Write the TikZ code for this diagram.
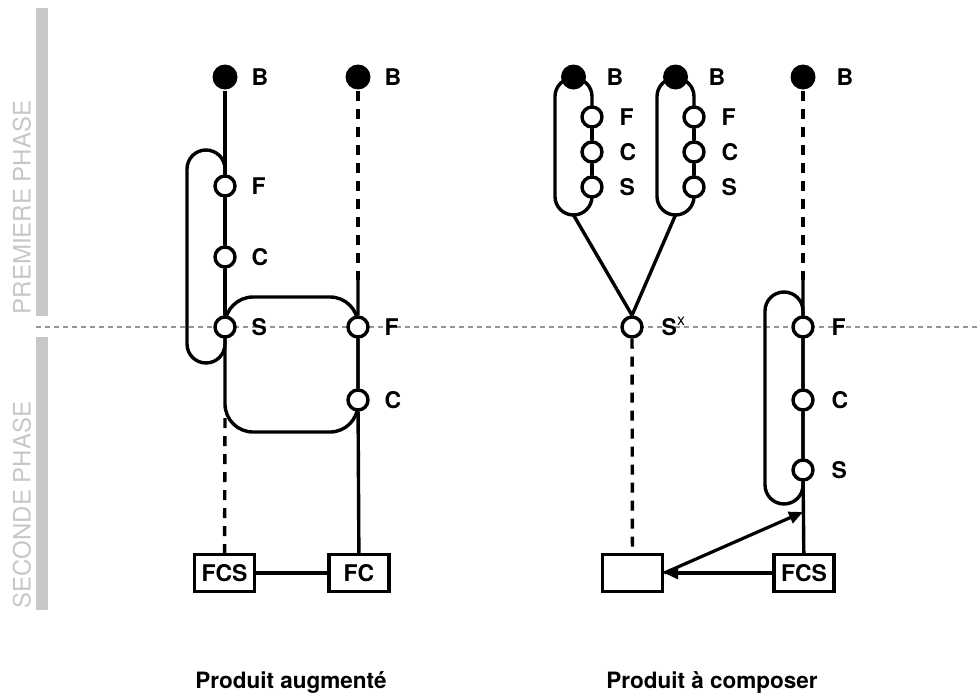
\documentclass[tikz,border=0pt]{standalone}
\usepackage{fontspec}
\setmainfont{TeX Gyre Heros}
\usetikzlibrary{arrows.meta, positioning}
\colorlet{phasegray}{black!22}
\colorlet{sepgray}{black!42}

\tikzset{
  bnode/.style={circle, fill=black, inner sep=0pt, minimum size=12.5pt},
  pnode/.style={circle, draw=black, fill=white, line width=1.7pt, inner sep=0pt, minimum size=10pt},
  lbl/.style={anchor=base west, inner sep=0pt, font=\fontsize{11.5}{13}\selectfont\bfseries},
  boite/.style={draw=black, fill=white, line width=1.7pt, inner sep=0pt, minimum width=30pt, minimum height=18.5pt, font=\fontsize{11.5}{13}\selectfont\bfseries},
  pointille/.style={line width=1.7pt, dash pattern=on 5pt off 4pt},
  phase/.style={rotate=90, anchor=west, inner sep=0pt, text=phasegray, font=\fontsize{12}{14}\selectfont},
  titre/.style={anchor=base, inner sep=0pt, font=\fontsize{11.25}{13}\selectfont\bfseries},
  fleche/.style={line width=1.6pt, -{Triangle[length=7pt, width=6pt]}},
}

\begin{document}
\begin{tikzpicture}[x=0.5pt, y=-0.5pt, line width=1.7pt]
  \useasboundingbox (0,0) rectangle (979,696);
  % phases
  \fill[phasegray] (36,8) rectangle (48,316);
  \fill[phasegray] (36,337) rectangle (48,610);
  \node[phase] (ph1) at (22,316) {PREMIERE PHASE};
  \node[phase] (ph2) at (22,610) {SECONDE PHASE};
  \draw[sepgray, line width=0.6pt, dash pattern=on 2.5pt off 2pt] (36,327) -- (979,327);

  % produit augmente
  \draw[rounded corners=9.5pt] (187,150) rectangle (225,363);
  \draw[rounded corners=14pt] (225,297) rectangle (358,432);
  \node[bnode] (b1) at (225,77) {};
  \node[pnode] (f1) at (225,186) {};
  \node[pnode] (c1) at (225,257) {};
  \node[pnode] (s1) at (225,327) {};
  \node[bnode] (b2) at (358,77) {};
  \node[pnode] (f2) at (358,327) {};
  \node[pnode] (c2) at (358,400) {};
  \node[boite] (fcs1) at (224.5,573) {FCS};
  \node[boite] (fc1) at (359,573) {FC};
  \coordinate (d1) at (225,418);
  \coordinate (d2) at (358,280);
  \draw (b1) -- (f1) -- (c1) -- (s1);
  \draw[pointille] (d1) -- (fcs1);
  \draw[pointille] (b2) -- (d2);
  \draw (d2) -- (f2) -- (c2) -- (fc1);
  \draw (fcs1) -- (fc1);
  \node[lbl] (lb1) at (250,85) {B};
  \node[lbl] (lf1) at (250,194) {F};
  \node[lbl] (lc1) at (250,265) {C};
  \node[lbl] (ls1) at (250,335) {S};
  \node[lbl] (lb2) at (383,85) {B};
  \node[lbl] (lf2) at (383,335) {F};
  \node[lbl] (lc2) at (383,408) {C};

  % produit a composer
  \draw[rounded corners=9.25pt] (555,78) rectangle (592,215);
  \draw[rounded corners=9.25pt] (657,78) rectangle (694,215);
  \draw[rounded corners=9.5pt] (765,292) rectangle (803,504);
  \node[bnode] (b3) at (573.5,77) {};
  \node[pnode] (f3) at (592,117) {};
  \node[pnode] (c3) at (592,152) {};
  \node[pnode] (s3) at (592,187) {};
  \node[bnode] (b4) at (675.5,77) {};
  \node[pnode] (f4) at (694,117) {};
  \node[pnode] (c4) at (694,152) {};
  \node[pnode] (s4) at (694,187) {};
  \node[pnode] (sx) at (632,327) {};
  \node[bnode] (b5) at (803,77) {};
  \node[pnode] (f5) at (803,327) {};
  \node[pnode] (c5) at (803,400) {};
  \node[pnode] (s5) at (803,470) {};
  \node[boite] (vide) at (632.5,573) {};
  \node[boite] (fcs2) at (804,573) {FCS};
  \coordinate (k1) at (573.5,215);
  \coordinate (k2) at (675.5,215);
  \coordinate (d4) at (803,280);
  \coordinate (a5) at (803,512);
  \draw (f3) -- (c3) -- (s3);
  \draw (f4) -- (c4) -- (s4);
  \draw (k1) -- (sx.north);
  \draw (k2) -- (sx.north);
  \draw[pointille] (sx) -- (vide);
  \draw[pointille] (b5) -- (d4);
  \draw (d4) -- (f5) -- (c5) -- (s5) -- (fcs2);
  \draw[fleche] (fcs2) -- (vide);
  \draw[fleche, {Triangle[length=7pt, width=6pt]}-] (a5) -- (vide.east);
  \node[lbl] (lb3) at (605,85) {B};
  \node[lbl] (lf3) at (618,125) {F};
  \node[lbl] (lc3) at (618,160) {C};
  \node[lbl] (ls3) at (618,195) {S};
  \node[lbl] (lb4) at (707,85) {B};
  \node[lbl] (lf4) at (720,125) {F};
  \node[lbl] (lc4) at (720,160) {C};
  \node[lbl] (ls4) at (720,195) {S};
  \node[lbl] (lsx) at (660,335) {S\raisebox{0.75ex}{\fontsize{8}{8}\selectfont\mdseries x}};
  \node[lbl] (lb5) at (835,85) {B};
  \node[lbl] (lf5) at (830,335) {F};
  \node[lbl] (lc5) at (830,408) {C};
  \node[lbl] (ls5) at (830,478) {S};

  \node[titre] (t1) at (291,688) {Produit augmenté};
  \node[titre] (t2) at (712,688) {Produit à composer};
\end{tikzpicture}
\end{document}
